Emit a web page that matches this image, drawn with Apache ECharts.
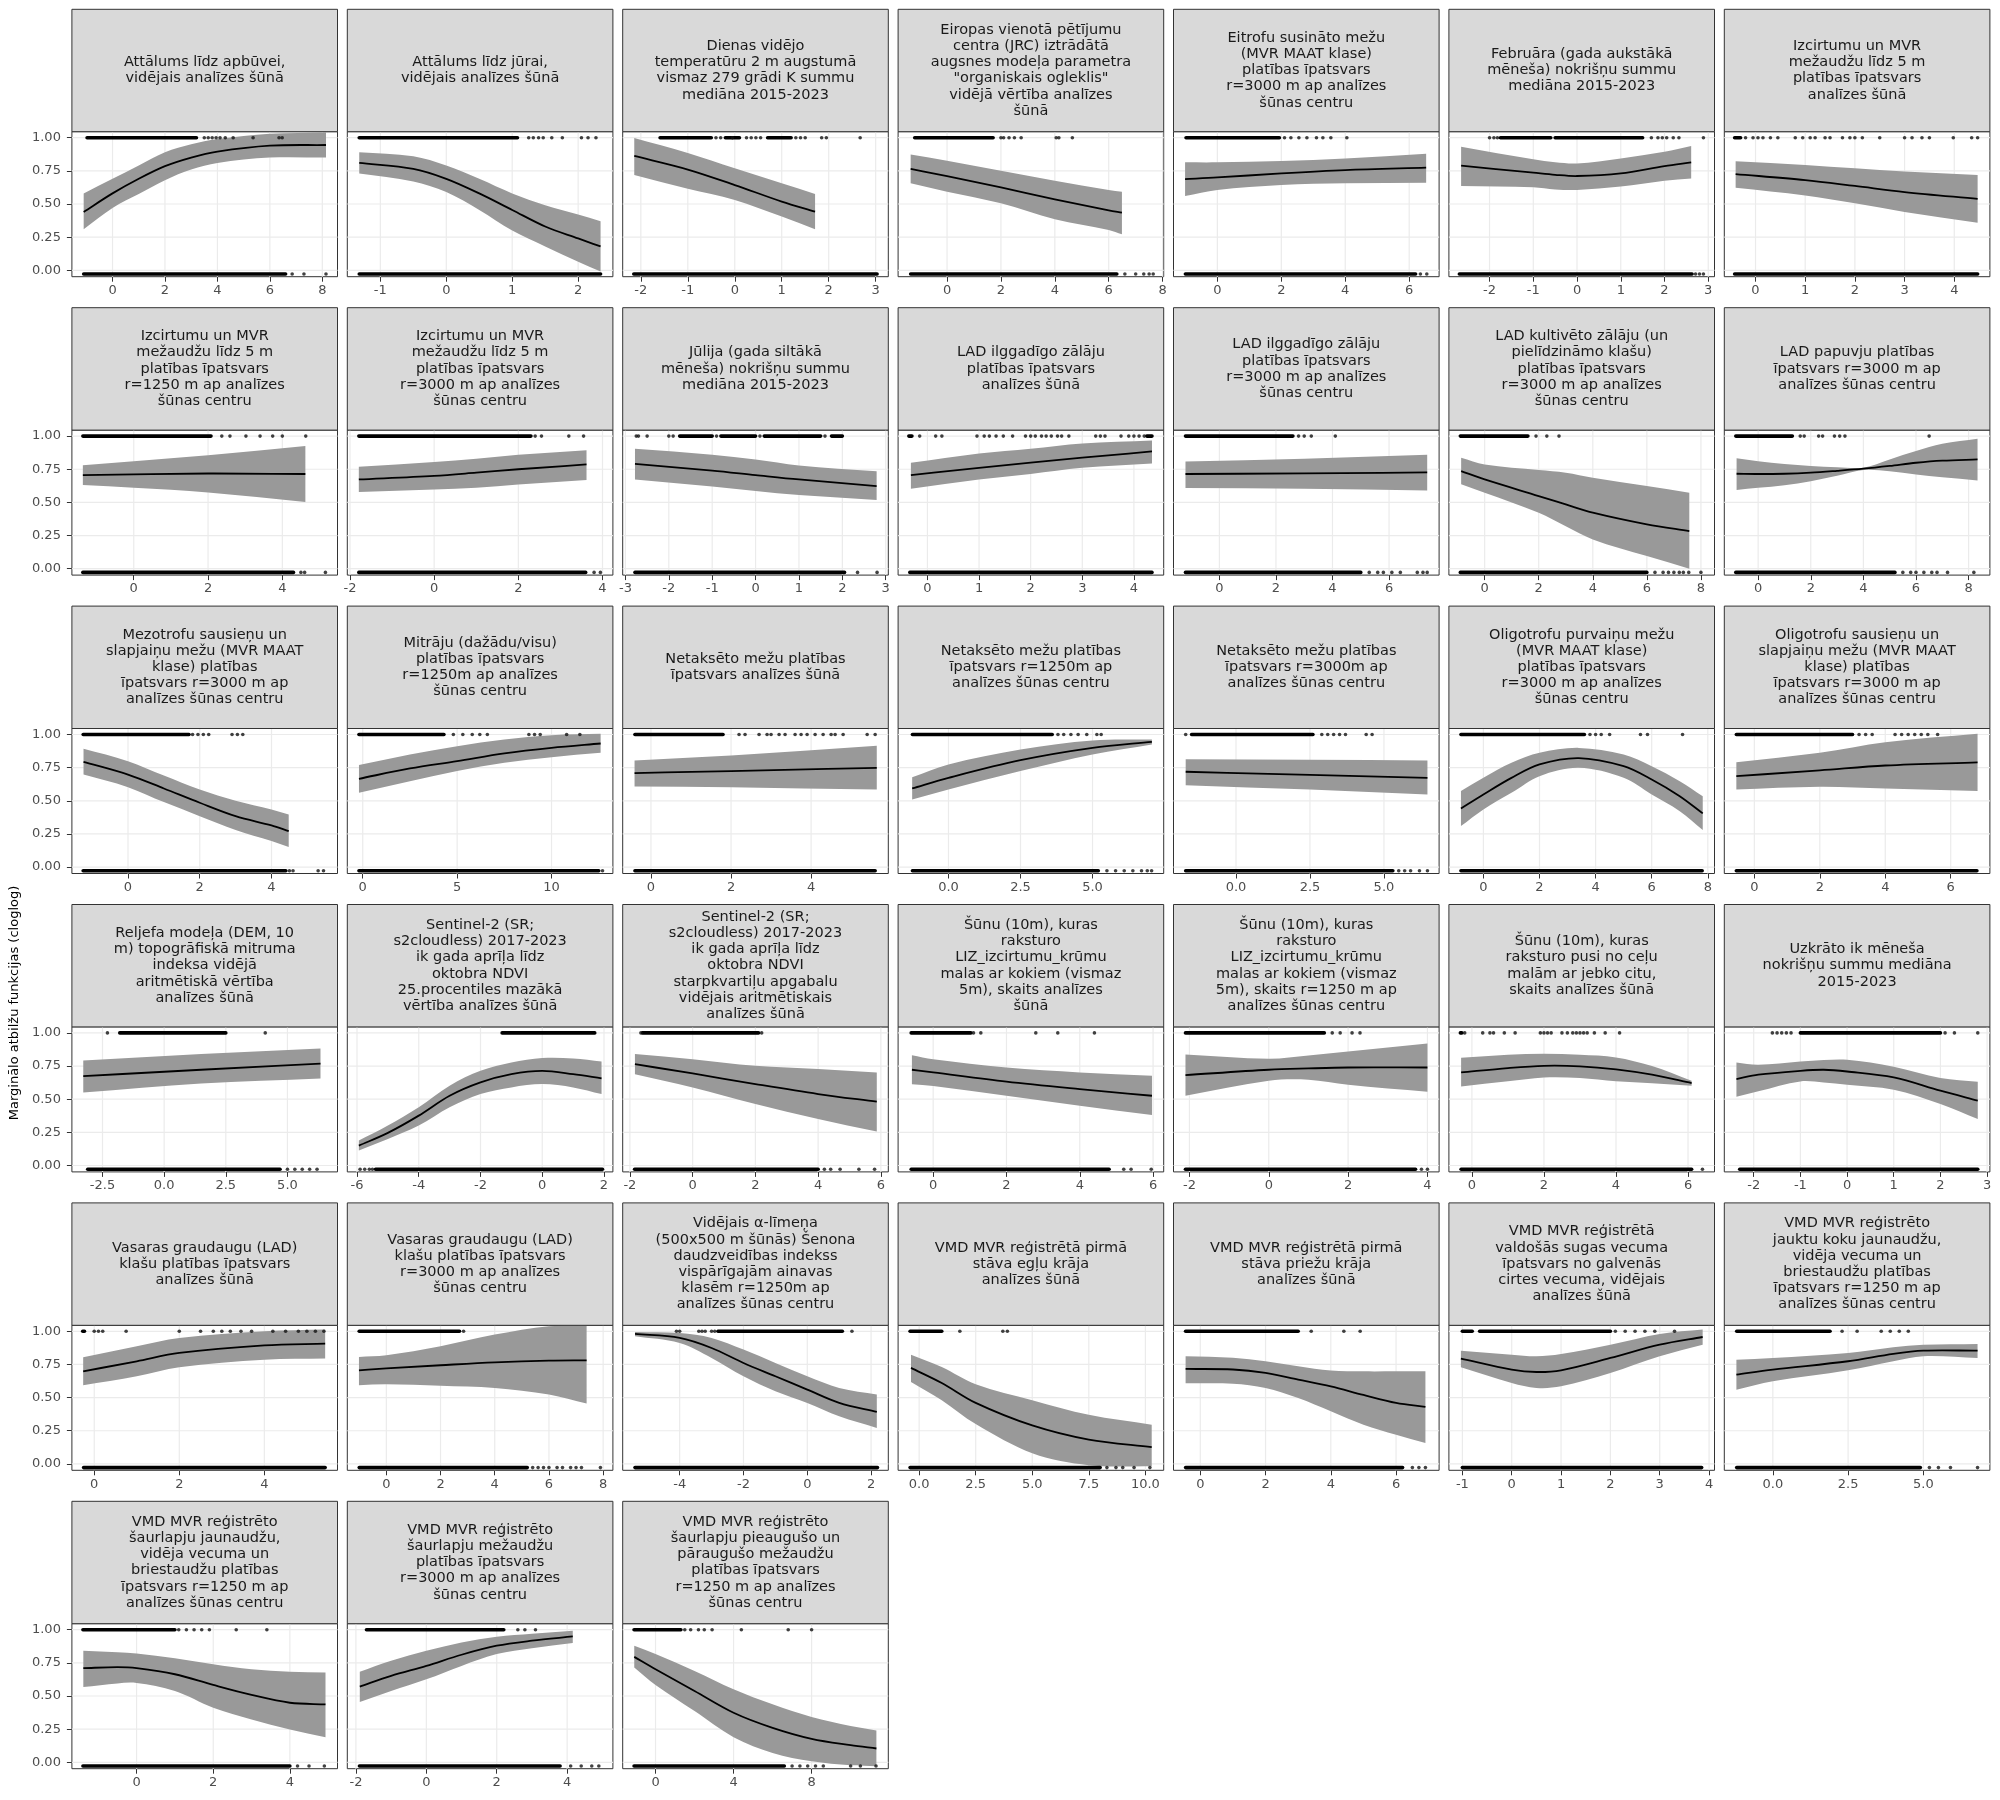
<!DOCTYPE html>
<html><head><meta charset="utf-8">
<script src="https://cdn.jsdelivr.net/npm/echarts@6/dist/echarts.min.js"></script>
<style>html,body{margin:0;padding:0;background:#fff}#c{width:2000px;height:1800px}</style>
</head><body><div id="c"></div>
<script>
const titles = [
"Attālums līdz apbūvei,\nvidējais analīzes šūnā",
"Attālums līdz jūrai,\nvidējais analīzes šūnā",
"Dienas vidējo\ntemperatūru 2 m augstumā\nvismaz 279 grādi K summu\nmediāna 2015-2023",
"Eiropas vienotā pētījumu\ncentra (JRC) iztrādātā\naugsnes modeļa parametra\n\"organiskais ogleklis\"\nvidējā vērtība analīzes\nšūnā",
"Eitrofu susināto mežu\n(MVR MAAT klase)\nplatības īpatsvars\nr=3000 m ap analīzes\nšūnas centru",
"Februāra (gada aukstākā\nmēneša) nokrišņu summu\nmediāna 2015-2023",
"Izcirtumu un MVR\nmežaudžu līdz 5 m\nplatības īpatsvars\nanalīzes šūnā",
"Izcirtumu un MVR\nmežaudžu līdz 5 m\nplatības īpatsvars\nr=1250 m ap analīzes\nšūnas centru",
"Izcirtumu un MVR\nmežaudžu līdz 5 m\nplatības īpatsvars\nr=3000 m ap analīzes\nšūnas centru",
"Jūlija (gada siltākā\nmēneša) nokrišņu summu\nmediāna 2015-2023",
"LAD ilggadīgo zālāju\nplatības īpatsvars\nanalīzes šūnā",
"LAD ilggadīgo zālāju\nplatības īpatsvars\nr=3000 m ap analīzes\nšūnas centru",
"LAD kultivēto zālāju (un\npielīdzināmo klašu)\nplatības īpatsvars\nr=3000 m ap analīzes\nšūnas centru",
"LAD papuvju platības\nīpatsvars r=3000 m ap\nanalīzes šūnas centru",
"Mezotrofu sausieņu un\nslapjaiņu mežu (MVR MAAT\nklase) platības\nīpatsvars r=3000 m ap\nanalīzes šūnas centru",
"Mitrāju (dažādu/visu)\nplatības īpatsvars\nr=1250m ap analīzes\nšūnas centru",
"Netaksēto mežu platības\nīpatsvars analīzes šūnā",
"Netaksēto mežu platības\nīpatsvars r=1250m ap\nanalīzes šūnas centru",
"Netaksēto mežu platības\nīpatsvars r=3000m ap\nanalīzes šūnas centru",
"Oligotrofu purvaiņu mežu\n(MVR MAAT klase)\nplatības īpatsvars\nr=3000 m ap analīzes\nšūnas centru",
"Oligotrofu sausieņu un\nslapjaiņu mežu (MVR MAAT\nklase) platības\nīpatsvars r=3000 m ap\nanalīzes šūnas centru",
"Reljefa modeļa (DEM, 10\nm) topogrāfiskā mitruma\nindeksa vidējā\naritmētiskā vērtība\nanalīzes šūnā",
"Sentinel-2 (SR;\ns2cloudless) 2017-2023\nik gada aprīļa līdz\noktobra NDVI\n25.procentiles mazākā\nvērtība analīzes šūnā",
"Sentinel-2 (SR;\ns2cloudless) 2017-2023\nik gada aprīļa līdz\noktobra NDVI\nstarpkvartiļu apgabalu\nvidējais aritmētiskais\nanalīzes šūnā",
"Šūnu (10m), kuras\nraksturo\nLIZ_izcirtumu_krūmu\nmalas ar kokiem (vismaz\n5m), skaits analīzes\nšūnā",
"Šūnu (10m), kuras\nraksturo\nLIZ_izcirtumu_krūmu\nmalas ar kokiem (vismaz\n5m), skaits r=1250 m ap\nanalīzes šūnas centru",
"Šūnu (10m), kuras\nraksturo pusi no ceļu\nmalām ar jebko citu,\nskaits analīzes šūnā",
"Uzkrāto ik mēneša\nnokrišņu summu mediāna\n2015-2023",
"Vasaras graudaugu (LAD)\nklašu platības īpatsvars\nanalīzes šūnā",
"Vasaras graudaugu (LAD)\nklašu platības īpatsvars\nr=3000 m ap analīzes\nšūnas centru",
"Vidējais α-līmeņa\n(500x500 m šūnās) Šenona\ndaudzveidības indekss\nvispārīgajām ainavas\nklasēm r=1250m ap\nanalīzes šūnas centru",
"VMD MVR reģistrētā pirmā\nstāva egļu krāja\nanalīzes šūnā",
"VMD MVR reģistrētā pirmā\nstāva priežu krāja\nanalīzes šūnā",
"VMD MVR reģistrētā\nvaldošās sugas vecuma\nīpatsvars no galvenās\ncirtes vecuma, vidējais\nanalīzes šūnā",
"VMD MVR reģistrēto\njauktu koku jaunaudžu,\nvidēja vecuma un\nbriestaudžu platības\nīpatsvars r=1250 m ap\nanalīzes šūnas centru",
"VMD MVR reģistrēto\nšaurlapju jaunaudžu,\nvidēja vecuma un\nbriestaudžu platības\nīpatsvars r=1250 m ap\nanalīzes šūnas centru",
"VMD MVR reģistrēto\nšaurlapju mežaudžu\nplatības īpatsvars\nr=3000 m ap analīzes\nšūnas centru",
"VMD MVR reģistrēto\nšaurlapju pieaugušo un\npāraugušo mežaudžu\nplatības īpatsvars\nr=1250 m ap analīzes\nšūnas centru"
];

const xLims = [
[-1.549,8.579],[-1.501,2.527],[-2.386,3.269],[-1.816,8.04],[-1.372,6.935],[-2.929,3.143],[-0.628,4.717],
[-1.665,5.485],[-2.064,4.247],[-3.063,3.059],[-0.568,4.577],[-1.624,7.771],[-1.323,8.502],[-1.287,8.81],
[-1.564,5.84],[-0.818,13.25],[-0.706,5.928],[-1.748,7.47],[-2.112,6.864],[-1.23,8.239],[-0.918,7.197],
[-3.741,7.03],[-6.314,2.288],[-2.23,6.237],[-0.957,6.29],[-2.402,4.294],[-0.639,6.735],[-2.63,3.06],
[-0.525,5.72],[-1.44,8.36],[-5.786,2.54],[-0.93,10.81],[-0.821,7.319],[-1.273,4.11],[-1.612,7.21],
[-1.688,5.243],[-2.245,5.3],[-1.682,11.93]
];

const xTicks = [
[0,2,4,6,8],[-1,0,1,2],[-2,-1,0,1,2,3],[0,2,4,6,8],[0,2,4,6],[-2,-1,0,1,2,3],[0,1,2,3,4],
[0,2,4],[-2,0,2,4],[-3,-2,-1,0,1,2,3],[0,1,2,3,4],[0,2,4,6],[0,2,4,6,8],[0,2,4,6,8],
[0,2,4],[0,5,10],[0,2,4],[0,2.5,5],[0,2.5,5],[0,2,4,6,8],[0,2,4,6],
[-2.5,0,2.5,5],[-6,-4,-2,0,2],[-2,0,2,4,6],[0,2,4,6],[-2,0,2,4],[0,2,4,6],[-2,-1,0,1,2,3],
[0,2,4],[0,2,4,6,8],[-4,-2,0,2],[0,2.5,5,7.5,10],[0,2,4,6],[-1,0,1,2,3,4],[0,2.5,5],
[0,2,4],[-2,0,2,4],[0,4,8]
];

const yTicks = [0, 0.25, 0.5, 0.75, 1];

const fitX = [
[-1.1,0,1,2,3,4,6,8.14],
[-1.32,-0.5,0,0.5,1,1.5,2,2.34],
[-2.14,-1,0,1,1.71],
[-1.35,0,2,4,6,6.49],
[-1.01,0,2,4,6.53],
[-2.65,-1,-0.5,0,1,2,2.61],
[-0.4,1,2,3,4.47],
[-1.37,0,2,4.62],
[-1.79,0,1,2,3.62],
[-2.78,-1,0,1,2.79],
[-0.32,1,2,3,4.35],
[-1.2,3,7.35],
[-0.87,0,2,3,4,6,7.57],
[-0.82,0,1,2,3,4,5,6,7,8.34],
[-1.24,0,1,2,3,4,4.48],
[-0.2,2.5,5,7.5,10,12.6],
[-0.41,2,5.64],
[-1.26,0,2.5,5,7.06],
[-1.7,2.5,6.47],
[-0.8,0,1,2,3.4,5,6,7,7.82],
[-0.55,2,4,6.82],
[-3.28,1.5,6.34],
[-5.94,-5,-4,-3,-2,-1,0,1,1.92],
[-1.84,0,2,4,5.87],
[-0.58,0,2,4,5.97],
[-2.1,0,1,2,4],
[-0.3,1,2,3,4,5,6.1],
[-2.37,-1.9,-1,-0.5,0,1,2,2.8],
[-0.26,1,2,4,5.43],
[-1.01,0,2,4,6,7.39],
[-5.4,-4,-3,-2,-1,0,1,2.18],
[-0.36,1,2.5,5,7.5,10.28],
[-0.45,1,2,3,4,5,6,6.9],
[-1.03,0,0.5,1,2,3,3.87],
[-1.21,0,2.5,4,5,6.8],
[-1.39,-0.5,0,1,2,3,4,4.93],
[-1.89,-1,0,1,2,3,4.16],
[-1.09,0,2,4,6,8,10,11.32]
];

const fitY = [
[0.44,0.58,0.69,0.785,0.85,0.895,0.94,0.945],
[0.81,0.765,0.69,0.58,0.455,0.33,0.24,0.18],
[0.862,0.76,0.643,0.518,0.442],
[0.764,0.71,0.625,0.535,0.452,0.435],
[0.688,0.70,0.731,0.756,0.774],
[0.789,0.736,0.72,0.711,0.731,0.786,0.814],
[0.726,0.68,0.636,0.59,0.538],
[0.706,0.712,0.718,0.714],
[0.673,0.70,0.724,0.75,0.786],
[0.791,0.74,0.706,0.673,0.623],
[0.706,0.761,0.80,0.837,0.884],
[0.714,0.719,0.726],
[0.736,0.673,0.548,0.485,0.422,0.334,0.284],
[0.716,0.714,0.716,0.724,0.738,0.754,0.775,0.799,0.815,0.824],
[0.794,0.698,0.593,0.485,0.384,0.314,0.271],
[0.666,0.744,0.799,0.857,0.899,0.932],
[0.709,0.724,0.749],
[0.593,0.673,0.806,0.899,0.945],
[0.719,0.695,0.673],
[0.442,0.548,0.673,0.774,0.822,0.761,0.661,0.535,0.405],
[0.686,0.729,0.766,0.789],
[0.674,0.722,0.769],
[0.15,0.246,0.376,0.526,0.627,0.689,0.714,0.689,0.657],
[0.764,0.694,0.614,0.539,0.481],
[0.722,0.702,0.632,0.576,0.526],
[0.682,0.722,0.732,0.739,0.739],
[0.702,0.735,0.752,0.748,0.725,0.685,0.622],
[0.652,0.685,0.714,0.722,0.709,0.664,0.564,0.489],
[0.698,0.774,0.837,0.894,0.907],
[0.706,0.72,0.744,0.766,0.779,0.781],
[0.98,0.95,0.874,0.761,0.661,0.56,0.46,0.392],
[0.724,0.61,0.46,0.29,0.183,0.126],
[0.716,0.712,0.686,0.636,0.585,0.52,0.46,0.43],
[0.794,0.711,0.693,0.706,0.799,0.899,0.957],
[0.673,0.711,0.774,0.83,0.854,0.854],
[0.71,0.717,0.71,0.664,0.583,0.508,0.449,0.437],
[0.571,0.652,0.727,0.811,0.879,0.917,0.949],
[0.795,0.702,0.538,0.374,0.26,0.177,0.129,0.104]
];

const bandLo = [
[0.31,0.47,0.575,0.68,0.76,0.81,0.85,0.85],
[0.73,0.67,0.59,0.455,0.30,0.18,0.065,-0.01],
[0.719,0.615,0.53,0.405,0.309],
[0.656,0.593,0.505,0.385,0.304,0.271],
[0.56,0.606,0.643,0.656,0.661],
[0.636,0.626,0.61,0.606,0.631,0.676,0.693],
[0.623,0.565,0.505,0.44,0.359],
[0.631,0.61,0.575,0.503],
[0.578,0.597,0.61,0.635,0.668],
[0.673,0.62,0.585,0.555,0.518],
[0.603,0.673,0.715,0.761,0.794],
[0.608,0.603,0.59],
[0.636,0.573,0.422,0.32,0.221,0.095,0.0],
[0.593,0.61,0.63,0.66,0.70,0.745,0.735,0.711,0.69,0.666],
[0.698,0.603,0.49,0.384,0.28,0.196,0.151],
[0.56,0.648,0.724,0.786,0.829,0.862],
[0.608,0.603,0.585],
[0.51,0.585,0.724,0.849,0.925],
[0.618,0.585,0.548],
[0.309,0.435,0.56,0.686,0.749,0.673,0.548,0.422,0.279],
[0.585,0.606,0.593,0.573],
[0.551,0.619,0.657],
[0.113,0.2,0.301,0.439,0.539,0.589,0.614,0.589,0.539],
[0.689,0.589,0.464,0.351,0.256],
[0.612,0.6,0.526,0.451,0.381],
[0.526,0.639,0.647,0.609,0.556],
[0.596,0.635,0.664,0.66,0.635,0.62,0.602],
[0.519,0.56,0.634,0.625,0.609,0.571,0.464,0.351],
[0.593,0.661,0.729,0.786,0.794],
[0.593,0.6,0.59,0.573,0.523,0.455],
[0.962,0.912,0.799,0.661,0.548,0.46,0.359,0.271],
[0.618,0.48,0.3,0.08,-0.01,-0.018],
[0.608,0.605,0.573,0.497,0.397,0.296,0.22,0.158],
[0.729,0.61,0.573,0.585,0.686,0.812,0.899],
[0.56,0.623,0.706,0.775,0.812,0.799],
[0.568,0.595,0.598,0.538,0.412,0.323,0.247,0.189],
[0.455,0.538,0.626,0.727,0.816,0.86,0.899],
[0.715,0.583,0.386,0.189,0.071,0.008,-0.023,-0.03]
];

const bandHi = [
[0.58,0.69,0.79,0.89,0.95,0.99,1.03,1.04],
[0.89,0.86,0.79,0.69,0.58,0.49,0.42,0.37],
[0.997,0.885,0.769,0.656,0.575],
[0.874,0.827,0.75,0.675,0.606,0.593],
[0.814,0.814,0.824,0.844,0.879],
[0.932,0.837,0.815,0.806,0.844,0.894,0.937],
[0.822,0.795,0.769,0.745,0.719],
[0.781,0.81,0.855,0.925],
[0.769,0.805,0.829,0.86,0.894],
[0.905,0.86,0.824,0.779,0.734],
[0.799,0.869,0.905,0.945,0.967],
[0.809,0.829,0.859],
[0.837,0.786,0.744,0.724,0.686,0.623,0.573],
[0.832,0.81,0.79,0.775,0.765,0.762,0.824,0.887,0.942,0.98],
[0.892,0.799,0.69,0.585,0.5,0.435,0.397],
[0.769,0.849,0.912,0.962,0.995,1.005],
[0.804,0.842,0.915],
[0.678,0.774,0.887,0.955,0.962],
[0.814,0.809,0.804],
[0.573,0.673,0.786,0.862,0.899,0.849,0.761,0.648,0.535],
[0.791,0.862,0.942,1.005],
[0.792,0.84,0.882],
[0.188,0.301,0.439,0.602,0.714,0.777,0.81,0.807,0.784],
[0.84,0.802,0.752,0.727,0.702],
[0.832,0.802,0.739,0.702,0.677],
[0.837,0.805,0.83,0.86,0.92],
[0.812,0.835,0.842,0.835,0.815,0.75,0.639],
[0.777,0.76,0.784,0.795,0.797,0.745,0.66,0.632],
[0.804,0.887,0.95,1.0,1.013],
[0.807,0.819,0.887,0.975,1.038,1.045],
[0.995,0.987,0.95,0.862,0.761,0.661,0.573,0.523],
[0.824,0.73,0.6,0.48,0.37,0.296],
[0.812,0.80,0.774,0.736,0.704,0.698,0.698,0.698],
[0.854,0.824,0.812,0.829,0.899,0.98,1.013],
[0.786,0.799,0.837,0.88,0.899,0.905],
[0.841,0.83,0.821,0.785,0.74,0.702,0.682,0.677],
[0.682,0.765,0.841,0.904,0.947,0.97,0.992],
[0.879,0.816,0.689,0.551,0.437,0.341,0.273,0.24]
];

const rugTopSeg = [
[[-0.97,3.2]],[[-1.32,1.08]],[[-1.59,-0.5],[-0.2,0.1],[0.7,1.2]],[[-1.2,1.71]],[[-0.98,1.94]],[[-1.75,-0.6],[-0.5,1.5]],[[-0.42,-0.3]],
[[-1.37,2.08]],[[-1.79,2.3]],[[-1.75,-1.0],[-0.8,0.0],[0.2,1.5],[1.75,2.0]],[[-0.36,-0.3],[4.25,4.35]],[[-1.2,2.6]],[[-0.9,1.6]],[[-0.85,1.3]],
[[-1.25,1.7]],[[-0.2,4.3]],[[-0.4,1.8]],[[-1.25,3.6]],[[-1.5,2.6]],[[-0.8,3.6]],[[-0.55,3.0]],
[[-1.8,2.5]],[[-1.3,1.7]],[[-1.6,2.1]],[[-0.6,1.03]],[[-2.1,1.4]],[[-0.32,-0.28]],[[-1.0,2.0]],
[[-0.27,-0.23]],[[-1.0,2.7]],[[-2.8,1.1]],[[-0.4,1.0]],[[-0.45,3.0]],[[-1.0,-0.8],[-0.65,2.0]],[[-1.2,1.9]],
[[-1.4,1.0]],[[-1.7,2.2]],[[-1.1,1.3]]
];

const rugTopPts = [
[3.5,3.65,3.8,3.95,4.1,4.3,4.6,5.36,6.35,6.47],
[1.25,1.32,1.4,1.47,1.6,1.76,2.05,2.15,2.27],
[-0.4,-0.3,-0.05,0.25,0.35,0.45,0.55,1.3,1.4,1.5,1.85,1.95,2.67],
[2.0,2.1,2.3,2.5,2.75,4.05,4.15,4.65],
[2.1,2.3,2.55,2.8,3.1,3.3,3.55,4.05],
[-2.0,-1.9,-1.82,1.7,1.85,1.95,2.05,2.2,2.33,2.89],
[-0.2,-0.05,0.05,0.15,0.3,0.45,0.8,0.95,1.1,1.2,1.4,1.5,1.75,1.9,2.0,2.15,2.5,3.0,3.15,3.35,3.5,3.98,4.35,4.47],
[2.37,2.59,3.02,3.4,3.74,4.0,4.63],
[2.4,2.55,3.2,3.55],
[-2.75,-2.7,-2.5,-2.0,-1.9,-0.9,0.1,1.6],
[-0.15,0.16,0.28,0.96,1.1,1.2,1.33,1.47,1.65,1.9,2.0,2.09,2.21,2.3,2.4,2.52,2.6,2.74,3.26,3.35,3.44,3.75,3.9,4.0,4.1,4.2],
[2.8,3.0,3.25,4.1],
[1.9,2.3,2.75],
[1.6,1.75,2.3,2.45,2.9,3.1,3.3,6.5],
[1.8,1.95,2.1,2.25,2.9,3.05,3.2],
[4.8,5.3,5.8,6.2,6.6,8.8,9.1,9.4,10.8,11.5],
[2.2,2.35,2.7,2.9,3.0,3.2,3.35,3.6,3.75,3.9,4.1,4.3,4.5,4.6,4.8,5.4,5.6],
[3.8,4.0,4.25,4.5,4.8,5.15,5.3],
[-1.7,2.9,3.1,3.3,3.5,3.7,4.4,4.6],
[3.8,4.0,4.2,4.5,5.6,5.85,7.1],
[3.2,3.4,3.6,4.3,4.5,4.7,4.9,5.1,5.3,5.6],
[-2.3,4.1],
[],
[-1.65,2.2],
[1.1,1.3,2.8,3.4,4.4],
[1.6,1.8,2.1,2.3],
[-0.2,0.3,0.5,0.6,0.9,1.2,1.9,2.0,2.1,2.2,2.5,2.65,2.8,2.9,3.0,3.1,3.2,3.4,3.7,4.1],
[-1.6,-1.5,-1.4,-1.3,-1.2,2.1,2.3,2.8],
[0.0,0.1,0.2,0.75,2.0,2.5,2.8,3.0,3.2,3.45,3.7,4.2,4.5,4.8,5.0,5.2,5.4],
[2.85],
[-4.1,-4.0,-3.4,-3.3,-3.2,-3.0,-2.9,1.4],
[1.8,3.7,3.9],
[3.4,4.4,4.9],
[2.1,2.3,2.5,2.7,2.9,3.3],
[2.3,2.8,3.6,3.9,4.2,4.5],
[1.1,1.3,1.5,1.7,1.9,2.6,3.4],
[2.6,2.8,3.1],
[1.5,1.8,2.2,2.5,2.9,4.4,6.8,8.0]
];

const rugBotSeg = [
[[-1.1,6.6]],[[-1.32,2.34]],[[-2.15,3.03]],[[-1.35,6.3]],[[-1.0,6.2]],[[-2.69,2.63]],[[-0.42,4.47]],
[[-1.37,4.3]],[[-1.79,3.6]],[[-2.78,2.05]],[[-0.34,4.35]],[[-1.2,5.0]],[[-0.9,6.0]],[[-0.85,5.2]],
[[-1.25,4.4]],[[-0.2,12.5]],[[-0.4,5.6]],[[-1.25,5.2]],[[-1.7,5.3]],[[-0.8,7.8]],[[-0.55,6.8]],
[[-3.1,4.7]],[[-5.4,1.95]],[[-1.85,4.0]],[[-0.6,4.8]],[[-2.1,3.7]],[[-0.3,6.1]],[[-2.3,2.8]],
[[-0.25,5.43]],[[-1.0,5.2]],[[-5.4,2.2]],[[-0.4,8.0]],[[-0.45,6.2]],[[-1.0,3.85]],[[-1.2,4.9]],
[[-1.4,4.0]],[[-1.9,3.8]],[[-1.1,6.6]]
];

const rugBotPts = [
[6.85,7.3,8.14],[],[],[6.6,7.0,7.3,7.5,7.65],[6.35,6.55],[2.71,2.8,2.89],[],
[4.5,4.6,5.16],[3.8,3.95],[2.35,2.8],[],[5.3,5.6,5.8,6.1,6.4,7.0,7.2,7.35],[6.3,6.6,6.8,7.0,7.2,7.35,7.55,8.0],[5.5,5.8,6.0,6.3,6.6,6.8,7.2,8.2],
[4.5,4.6,5.3,5.45],[12.7],[],[5.5,5.8,6.1,6.4,6.7,6.9,7.05],[5.5,5.7,5.9,6.2,6.47],[],[],
[5.0,5.3,5.6,5.9,6.2],[-5.9,-5.75,-5.6,-5.5],[4.2,4.4,4.7,5.3,5.8],[5.2,5.4,5.95],[3.85,4.0],[6.4],[],
[],[5.4,5.6,5.8,6.0,6.3,6.5,6.8,7.0,7.2,7.9],[],[8.3,8.7,9.0,9.5,10.2],[6.5,6.7,6.9],[],[5.2,5.5,5.9,6.8],
[4.2,4.5,4.9],[4.1,4.4,4.7,4.9],[7.0,7.4,7.8,8.2,8.6,10.0,10.5,11.3]
];

const yAxisTitle = "Marginālo atbilžu funkcijas (cloglog)";

// ---------- layout / style ----------
const NCOL = 7, COL0 = 71.9, COLP = 275.4, PW = 265.6;
const ROW0 = 9.3, ROWP = 298.4, SH = 122.4, PH = 145;
const YMIN = -0.0483, YMAX = 1.0452;
const Y_TOP = 1, Y_BOT = -0.028;
const FONT = '"DejaVu Sans", sans-serif';

function slopes(p) {
  const n = p.length, m = [];
  for (let k = 0; k < n; k++) {
    if (n === 1) { m.push(0); continue; }
    if (k === 0) m.push((p[1][1] - p[0][1]) / (p[1][0] - p[0][0]));
    else if (k === n - 1) m.push((p[n-1][1] - p[n-2][1]) / (p[n-1][0] - p[n-2][0]));
    else m.push((p[k+1][1] - p[k-1][1]) / (p[k+1][0] - p[k-1][0]));
  }
  return m;
}
function fwd(p) {
  const m = slopes(p); let s = '';
  for (let k = 0; k < p.length - 1; k++) {
    const h = p[k+1][0] - p[k][0];
    s += ' C ' + (p[k][0] + h/3) + ' ' + (p[k][1] + m[k]*h/3) + ' ' + (p[k+1][0] - h/3) + ' ' + (p[k+1][1] - m[k+1]*h/3) + ' ' + p[k+1][0] + ' ' + p[k+1][1];
  }
  return s;
}
function bwd(p) {
  const m = slopes(p); let s = '';
  for (let k = p.length - 1; k > 0; k--) {
    const h = p[k][0] - p[k-1][0];
    s += ' C ' + (p[k][0] - h/3) + ' ' + (p[k][1] - m[k]*h/3) + ' ' + (p[k-1][0] + h/3) + ' ' + (p[k-1][1] + m[k-1]*h/3) + ' ' + p[k-1][0] + ' ' + p[k-1][1];
  }
  return s;
}

const grids = [], xAxes = [], yAxes = [], series = [], graphics = [];

titles.forEach((t, i) => {
  const col = i % NCOL, row = Math.floor(i / NCOL);
  const L = COL0 + col * COLP, T = ROW0 + row * ROWP;
  graphics.push({ type: 'rect', shape: { x: L, y: T, width: PW, height: SH },
    style: { fill: '#d9d9d9', stroke: '#333333', lineWidth: 1 }, z: 10, silent: true });
  graphics.push({ type: 'text', x: L + PW / 2, y: T + SH / 2,
    style: { text: t, align: 'center', verticalAlign: 'middle', font: '14.5px ' + FONT, fill: '#1a1a1a', lineHeight: 16.2 },
    z: 11, silent: true });

  grids.push({ left: L, top: T + SH, width: PW, height: PH, show: true,
    borderColor: '#333333', borderWidth: 1, backgroundColor: '#ffffff' });

  const ticks = xTicks[i];
  const dec = ticks.some(v => !Number.isInteger(v)) ? 1 : 0;
  xAxes.push({ gridIndex: i, type: 'value', min: xLims[i][0], max: xLims[i][1], position: 'bottom',
    axisLine: { show: false, onZero: false }, splitLine: { show: false },
    axisTick: { show: true, customValues: ticks, length: 5, lineStyle: { color: '#333333', width: 1 } },
    axisLabel: { customValues: ticks, margin: 7.5, color: '#4d4d4d', fontSize: 13, fontFamily: FONT,
      formatter: v => Number(v).toFixed(dec) } });
  yAxes.push({ gridIndex: i, type: 'value', min: YMIN, max: YMAX, position: 'left',
    axisLine: { show: false, onZero: false }, splitLine: { show: false },
    axisTick: { show: col === 0, customValues: yTicks, length: 5, lineStyle: { color: '#333333', width: 1 } },
    axisLabel: { show: col === 0, customValues: yTicks, margin: 11, color: '#4d4d4d', fontSize: 13, fontFamily: FONT,
      formatter: v => Number(v).toFixed(2) } });

  // grid lines
  const gl = ticks.map(v => [0, v]).concat(yTicks.map(v => [1, v]));
  series.push({ type: 'custom', xAxisIndex: i, yAxisIndex: i, silent: true, z: 1, data: gl,
    renderItem: (params, api) => {
      const cs = params.coordSys, kind = api.value(0), v = api.value(1);
      if (kind === 0) {
        const x = api.coord([v, 0])[0];
        return { type: 'line', shape: { x1: x, y1: cs.y, x2: x, y2: cs.y + cs.height }, style: { stroke: '#ebebeb', lineWidth: 1.2 } };
      }
      const y = api.coord([xLims[i][0], v])[1];
      return { type: 'line', shape: { x1: cs.x, y1: y, x2: cs.x + cs.width, y2: y }, style: { stroke: '#ebebeb', lineWidth: 1.2 } };
    } });

  // ribbon + fitted line
  series.push({ type: 'custom', xAxisIndex: i, yAxisIndex: i, silent: true, z: 2, clip: true, data: [[fitX[i][0], fitY[i][0]]],
    renderItem: (params, api) => {
      const xs = fitX[i];
      const hp = xs.map((x, k) => api.coord([x, bandHi[i][k]]));
      const lp = xs.map((x, k) => api.coord([x, bandLo[i][k]]));
      const fp = xs.map((x, k) => api.coord([x, fitY[i][k]]));
      const band = 'M ' + hp[0][0] + ' ' + hp[0][1] + fwd(hp) + ' L ' + lp[lp.length-1][0] + ' ' + lp[lp.length-1][1] + bwd(lp) + ' Z';
      const line = 'M ' + fp[0][0] + ' ' + fp[0][1] + fwd(fp);
      return { type: 'group', children: [
        { type: 'path', shape: { pathData: band }, style: { fill: '#999999', stroke: 'none' } },
        { type: 'path', shape: { pathData: line }, style: { fill: 'none', stroke: '#000000', lineWidth: 1.8 } }
      ] };
    } });

  // rug dense segments
  const segs = rugTopSeg[i].map(s => [s[0], s[1], Y_TOP]).concat(rugBotSeg[i].map(s => [s[0], s[1], Y_BOT]));
  series.push({ type: 'custom', xAxisIndex: i, yAxisIndex: i, silent: true, z: 3, data: segs,
    renderItem: (params, api) => {
      const a = api.coord([api.value(0), api.value(2)]);
      const b = api.coord([api.value(1), api.value(2)]);
      return { type: 'line', shape: { x1: a[0], y1: a[1], x2: b[0], y2: b[1] },
        style: { stroke: '#000000', lineWidth: 3.6, lineCap: 'round' } };
    } });

  // rug single points
  const pts = rugTopPts[i].map(x => [x, Y_TOP]).concat(rugBotPts[i].map(x => [x, Y_BOT]));
  series.push({ type: 'scatter', xAxisIndex: i, yAxisIndex: i, silent: true, z: 3, data: pts,
    symbol: 'circle', symbolSize: 3.6, itemStyle: { color: '#111111' } });
});

graphics.push({ type: 'text', x: 15, y: 1003, rotation: Math.PI / 2,
  style: { text: yAxisTitle, align: 'center', verticalAlign: 'middle', font: '13px ' + FONT, fill: '#000000' }, silent: true });

const chart = echarts.init(document.getElementById('c'), null, { renderer: 'canvas', width: 2000, height: 1800 });
chart.setOption({
  backgroundColor: '#ffffff',
  animation: false,
  grid: grids, xAxis: xAxes, yAxis: yAxes, series: series,
  graphic: graphics
});
</script></body></html>
